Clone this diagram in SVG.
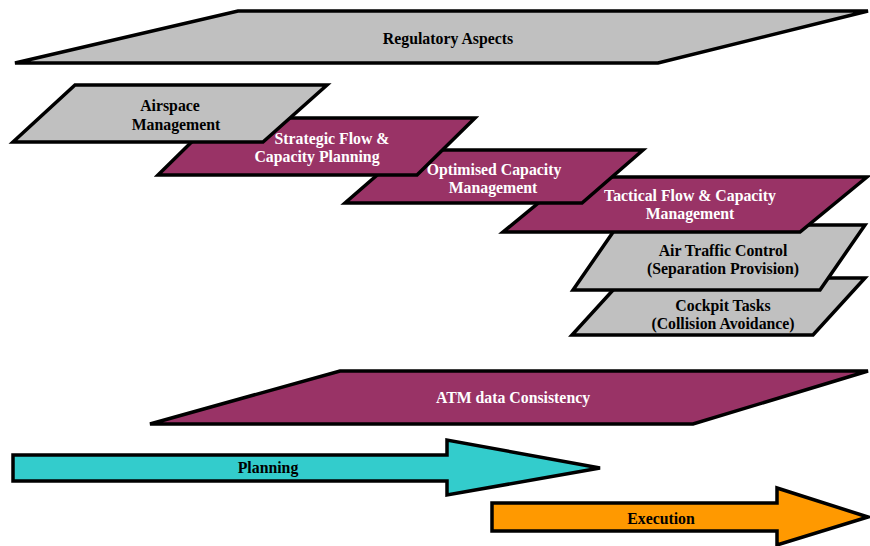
<svg xmlns="http://www.w3.org/2000/svg" width="870" height="546" viewBox="0 0 870 546">
<style>
.s{stroke:#000;stroke-width:3.5;stroke-linejoin:miter}
.g{fill:#c0c0c0}
.m{fill:#993366}
.c{fill:#33cccc}
.o{fill:#ff9900}
text{font-family:"Liberation Serif","Times New Roman",serif;font-weight:bold;font-size:15.8px;text-anchor:middle}
.w{fill:#fff}
.k{fill:#000}
</style>
<rect width="870" height="546" fill="#fff"/>
<g id="regulatory">
<polygon class="s g" points="238,11 868,11 658,63 15,63"/>
<text class="k" x="448" y="44">Regulatory Aspects</text>
</g>
<g id="cockpit">
<polygon class="s g" points="624,278 865,278 813,335 572,335"/>
<text class="k" x="723" y="311">Cockpit Tasks</text>
<text class="k" x="723" y="329">(Collision Avoidance)</text>
</g>
<g id="atc">
<polygon class="s g" points="618,225 865,225 820,290 573,290"/>
<text class="k" x="723" y="256">Air Traffic Control</text>
<text class="k" x="723" y="274">(Separation Provision)</text>
</g>
<g id="tactical">
<polygon class="s m" points="570,177 867,177 800,232 503,232"/>
<text class="w" x="690" y="201">Tactical Flow &amp; Capacity</text>
<text class="w" x="690" y="219">Management</text>
</g>
<g id="optimised">
<polygon class="s m" points="406,150 643,150 582,203 345,203"/>
<text class="w" x="494" y="175">Optimised Capacity</text>
<text class="w" x="493" y="193">Management</text>
</g>
<g id="strategic">
<polygon class="s m" points="216,118 475,118 417,175 158,175"/>
<text class="w" x="332" y="144">Strategic Flow &amp;</text>
<text class="w" x="317" y="162">Capacity Planning</text>
</g>
<g id="airspace">
<polygon class="s g" points="75,85 327,85 263,142 13,142"/>
<text class="k" x="170" y="111">Airspace</text>
<text class="k" x="176" y="130">Management</text>
</g>
<g id="atm">
<polygon class="s m" points="340,371 868,371 693,424 150,424"/>
<text class="w" x="513" y="403">ATM data Consistency</text>
</g>
<g id="planning">
<polygon class="s c" points="13,455 447,455 447,440 600,468 447,495 447,481 13,481"/>
<text class="k" x="268" y="473">Planning</text>
</g>
<g id="execution">
<polygon class="s o" points="492,503 777,503 777,488 868,517 777,545 777,531 492,531"/>
<text class="k" x="661" y="524">Execution</text>
</g>
<g id="connectors"></g>
</svg>
